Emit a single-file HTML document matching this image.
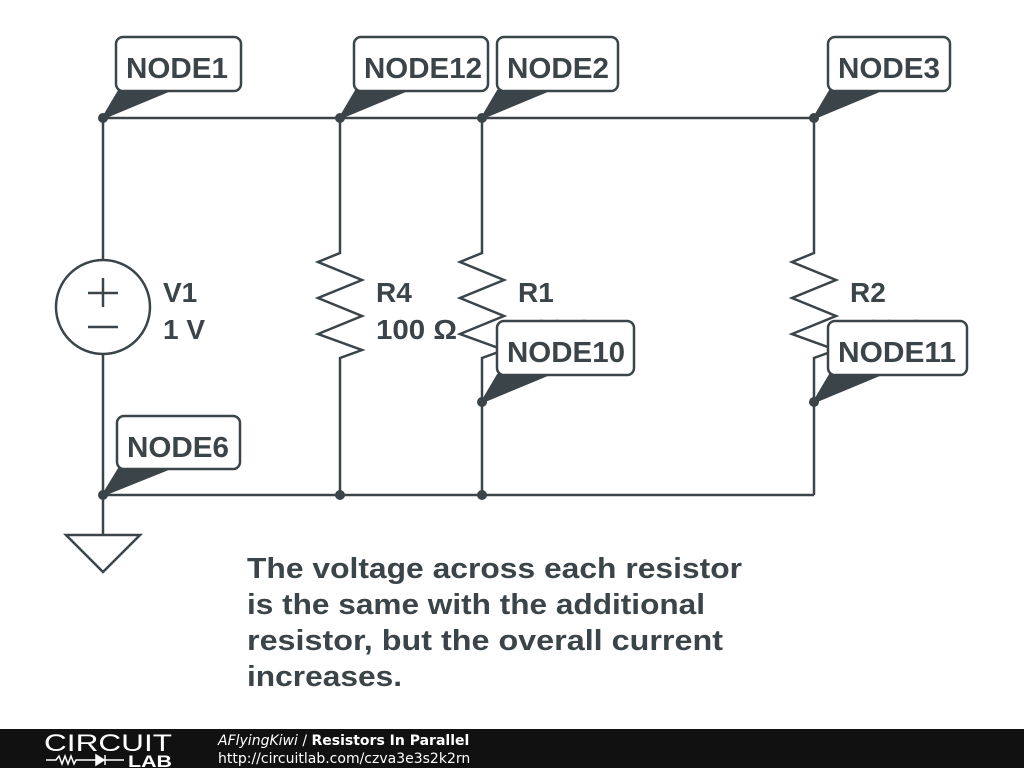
<!DOCTYPE html>
<html><head><meta charset="utf-8"><style>
body{margin:0;background:#fff;}
svg{display:block;}
text{font-family:"Liberation Sans",Arial,sans-serif;font-weight:bold;fill:#3b4448;}
</style></head><body>
<svg width="1024" height="768" viewBox="0 0 1024 768" xmlns="http://www.w3.org/2000/svg">
<g stroke="#3b4448" stroke-width="2.5" fill="none" stroke-linejoin="miter">
<polyline points="103,118 814,118"/>
<polyline points="103,495 814,495"/>
<line x1="103" y1="118" x2="103" y2="260"/>
<line x1="103" y1="354" x2="103" y2="535"/>
<circle cx="103" cy="307" r="47"/>
<line x1="88" y1="293" x2="118" y2="293"/><line x1="103" y1="278" x2="103" y2="307"/>
<line x1="88" y1="327" x2="118" y2="327"/>
<polygon points="66,535 140,535 103,572"/>
<polyline points="340,118 340,253 318,262 362,280 318,298 362,316 318,334 362,350 340,358 340,495"/>
<polyline points="482,118 482,253 460,262 504,280 460,298 504,316 460,334 504,350 482,358 482,495"/>
<polyline points="814,118 814,253 792,262 836,280 792,298 836,316 792,334 836,350 814,358 814,495"/>
</g>
<g fill="#3b4448">
<circle cx="103" cy="118" r="5"/><circle cx="340" cy="118" r="5"/><circle cx="482" cy="118" r="5"/><circle cx="814" cy="118" r="5"/>
<circle cx="103" cy="495" r="5"/><circle cx="340" cy="495" r="5"/><circle cx="482" cy="495" r="5"/>
<circle cx="482" cy="402" r="5"/><circle cx="814" cy="402" r="5"/>
</g>
<g font-size="28">
<text x="163" y="302">V1</text>
<text x="163" y="339">1 V</text>
<text x="376" y="302">R4</text>
<text x="376" y="339" textLength="81" lengthAdjust="spacingAndGlyphs">100 Ω</text>
<text x="518" y="302">R1</text>
<text x="518" y="339">100 Ω</text>
<text x="850" y="302">R2</text>
<text x="850" y="339">100 Ω</text>
</g>
<g stroke="#3b4448" stroke-width="2.5">
<polygon points="119,91 168,91 103,118" fill="#3b4448"/>
<rect x="116" y="37" width="125" height="54" rx="7" fill="#fff"/>
<polygon points="356,91 405,91 340,118" fill="#3b4448"/>
<rect x="354" y="37" width="134" height="54" rx="7" fill="#fff"/>
<polygon points="498,91 547,91 482,118" fill="#3b4448"/>
<rect x="497" y="37" width="121" height="54" rx="7" fill="#fff"/>
<polygon points="830,91 879,91 814,118" fill="#3b4448"/>
<rect x="828" y="37" width="122" height="54" rx="7" fill="#fff"/>
<polygon points="498,375 547,375 482,402" fill="#3b4448"/>
<rect x="497" y="321" width="137" height="54" rx="7" fill="#fff"/>
<polygon points="830,375 879,375 814,402" fill="#3b4448"/>
<rect x="828" y="321" width="139" height="54" rx="7" fill="#fff"/>
<polygon points="119,469 168,469 103,495" fill="#3b4448"/>
<rect x="117" y="416" width="123" height="53" rx="7" fill="#fff"/>
</g>
<g font-size="29">
<text x="126" y="78" textLength="102" lengthAdjust="spacingAndGlyphs">NODE1</text>
<text x="364" y="78" textLength="118" lengthAdjust="spacingAndGlyphs">NODE12</text>
<text x="507" y="78" textLength="102" lengthAdjust="spacingAndGlyphs">NODE2</text>
<text x="838" y="78" textLength="102" lengthAdjust="spacingAndGlyphs">NODE3</text>
<text x="507" y="362" textLength="118" lengthAdjust="spacingAndGlyphs">NODE10</text>
<text x="838" y="362" textLength="118" lengthAdjust="spacingAndGlyphs">NODE11</text>
<text x="127" y="457" textLength="102" lengthAdjust="spacingAndGlyphs">NODE6</text>
</g>
<g font-size="29">
<text x="247" y="578" textLength="495" lengthAdjust="spacingAndGlyphs">The voltage across each resistor</text>
<text x="247" y="614" textLength="458" lengthAdjust="spacingAndGlyphs">is the same with the additional</text>
<text x="247" y="650" textLength="476" lengthAdjust="spacingAndGlyphs">resistor, but the overall current</text>
<text x="247" y="686" textLength="155" lengthAdjust="spacingAndGlyphs">increases.</text>
</g>
<rect x="0" y="729" width="1024" height="39" fill="#111"/>
<text x="44" y="751" font-size="24" style="font-weight:normal;fill:#fff" textLength="128" lengthAdjust="spacingAndGlyphs">CIRCUIT</text>
<g stroke="#fff" stroke-width="1.5" fill="none">
<polyline points="46,760 56,760 59,756 62,764 65,756 68,764 71,756 74,764 76,760 84,760"/>
<polyline points="84,760 124,760"/>
<polygon points="96,755 96,765 104,760" fill="#fff"/>
<line x1="105" y1="755" x2="105" y2="765"/>
</g>
<text x="128" y="767" font-size="17" style="fill:#fff" textLength="44" lengthAdjust="spacingAndGlyphs">LAB</text>
<text x="218" y="745" font-size="14" style="fill:#fff;font-weight:normal;font-style:italic;font-family:'DejaVu Sans',sans-serif">AFlyingKiwi <tspan style="font-style:normal">/</tspan> <tspan style="font-style:normal;font-weight:bold">Resistors In Parallel</tspan></text>
<text x="218" y="763" font-size="14" style="fill:#fff;font-weight:normal;font-family:'DejaVu Sans',sans-serif">http://circuitlab.com/czva3e3s2k2rn</text>
</svg>
</body></html>
